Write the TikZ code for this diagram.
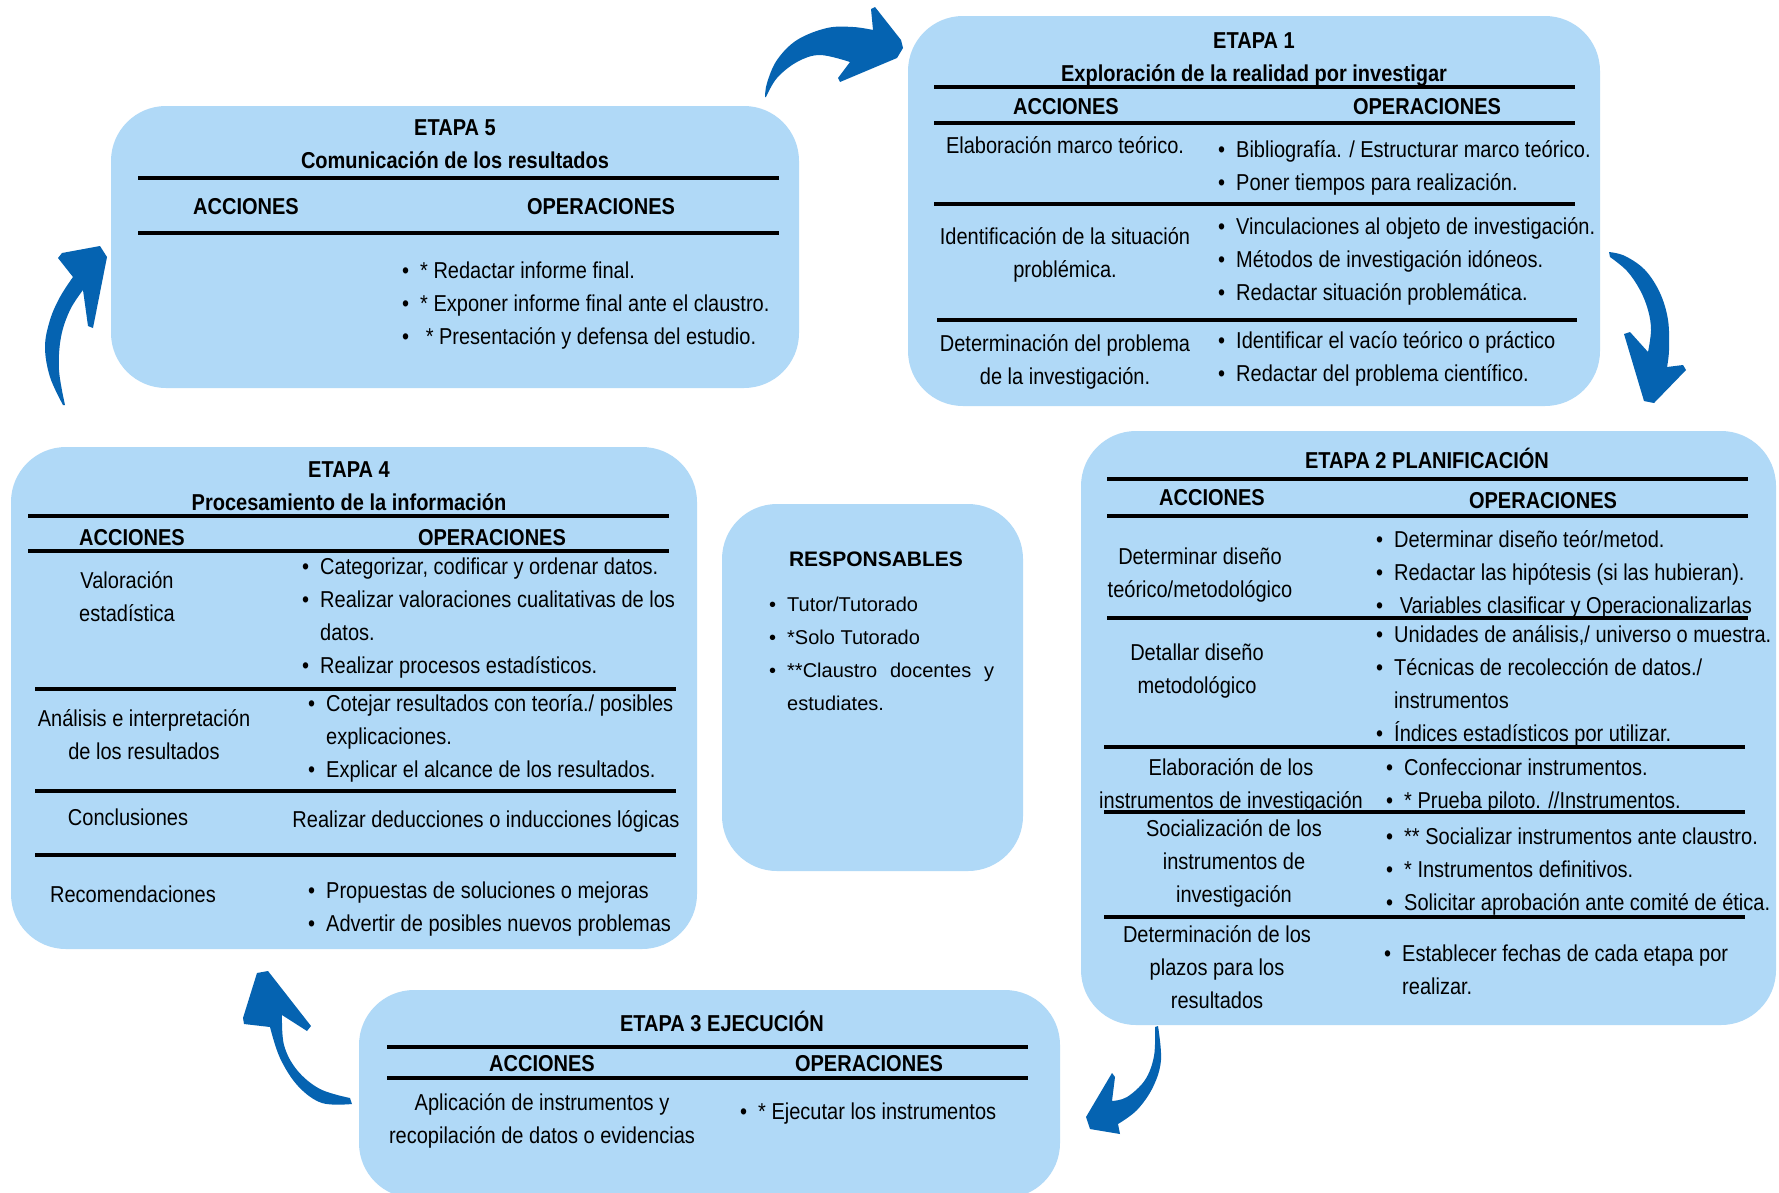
\documentclass[tikz,border=0pt]{standalone}
\usepackage{fontspec}
\setmainfont[FakeStretch=0.87]{Liberation Sans}
\newfontfamily\respfont{Liberation Sans}
\definecolor{boxblue}{RGB}{176,217,247}
\definecolor{arrowblue}{RGB}{5,99,177}
\newcommand\tfs{\fontsize{23}{33}\selectfont}
\newcommand\rfs{\respfont\fontsize{20}{33}\selectfont}
\newcommand\rtfs{\respfont\fontsize{21}{33}\selectfont}
\newcommand\mystrut{\rule{0pt}{25pt}}
\newcommand\mybul{\mystrut\makebox[18pt][l]{•}}
\newcommand\mycont{\mystrut\makebox[18pt][l]{}}
\tikzset{
  box/.style={fill=boxblue, rounded corners=55pt, inner sep=0pt},
  rulel/.style={line width=4pt, black},
  ctext/.style={font=\tfs, align=center, anchor=north, inner sep=0pt},
  ltext/.style={font=\tfs, align=left, anchor=north west, inner sep=0pt},
  arrowshape/.style={fill=arrowblue}
}
\begin{document}
\begin{tikzpicture}[x=1pt,y=-1pt]
\useasboundingbox (0,0) rectangle (1779,1192);
\fill[white] (0,0) rectangle (1779,1192);

% ---------- boxes ----------
\node[box, minimum width=692, minimum height=390] (e1box) at (1254,211) {};
\node[box, minimum width=688, minimum height=282] (e5box) at (455,247) {};
\node[box, minimum width=686, minimum height=502] (e4box) at (354,698) {};
\node[box, minimum width=301, minimum height=367] (rbox) at (872.5,687.5) {};
\node[box, minimum width=695, minimum height=594] (e2box) at (1428.5,728) {};
\node[box, minimum width=701, minimum height=208] (e3box) at (709.5,1094) {};

% ---------- ETAPA 1 ----------
\node[ctext] (e1title) at (1254,23) {\mystrut\textbf{ETAPA 1}\\\textbf{Exploración de la realidad por investigar}};
\draw[rulel] (934,87) -- (1575,87);
\draw[rulel] (934,123) -- (1575,123);
\draw[rulel] (934,204) -- (1575,204);
\draw[rulel] (937,320) -- (1577,320);
\node[ctext] (e1acc) at (1066,89) {\mystrut\textbf{ACCIONES}};
\node[ctext] (e1ope) at (1427,89) {\mystrut\textbf{OPERACIONES}};
\node[ctext] (e1a1) at (1065,128) {\mystrut Elaboración marco teórico.};
\node[ltext] (e1o1) at (1218,132) {\mybul Bibliografía. / Estructurar marco teórico.\\\mybul Poner tiempos para realización.};
\node[ctext] (e1a2) at (1065,219) {\mystrut Identificación de la situación\\problémica.};
\node[ltext] (e1o2) at (1218,209) {\mybul Vinculaciones al objeto de investigación.\\\mybul Métodos de investigación idóneos.\\\mybul Redactar situación problemática.};
\node[ctext] (e1a3) at (1065,326) {\mystrut Determinación del problema\\de la investigación.};
\node[ltext] (e1o3) at (1218,323) {\mybul Identificar el vacío teórico o práctico\\\mybul Redactar del problema científico.};

% ---------- ETAPA 5 ----------
\node[ctext] (e5title) at (455,110) {\mystrut\textbf{ETAPA 5}\\\textbf{Comunicación de los resultados}};
\draw[rulel] (138,178) -- (779,178);
\draw[rulel] (138,233) -- (779,233);
\node[ctext] (e5acc) at (246,189) {\mystrut\textbf{ACCIONES}};
\node[ctext] (e5ope) at (601,189) {\mystrut\textbf{OPERACIONES}};
\node[ltext] (e5o1) at (402,253) {\mybul * Redactar informe final.\\\mybul * Exponer informe final ante el claustro.\\\mybul\ * Presentación y defensa del estudio.};

% ---------- ETAPA 4 ----------
\node[ctext] (e4title) at (349,452) {\mystrut\textbf{ETAPA 4}\\\textbf{Procesamiento de la información}};
\draw[rulel] (28,516) -- (669,516);
\draw[rulel] (28,551) -- (669,551);
\draw[rulel] (35,689) -- (676,689);
\draw[rulel] (35,791) -- (676,791);
\draw[rulel] (35,855) -- (676,855);
\node[ctext] (e4acc) at (132,520) {\mystrut\textbf{ACCIONES}};
\node[ctext] (e4ope) at (492,520) {\mystrut\textbf{OPERACIONES}};
\node[ctext] (e4a1) at (127,563) {\mystrut Valoración\\estadística};
\node[ltext] (e4o1) at (302,549) {\mybul Categorizar, codificar y ordenar datos.\\\mybul Realizar valoraciones cualitativas de los\\\mycont datos.\\\mybul Realizar procesos estadísticos.};
\node[ctext] (e4a2) at (144,701) {\mystrut Análisis e interpretación\\de los resultados};
\node[ltext] (e4o2) at (308,686) {\mybul Cotejar resultados con teoría./ posibles\\\mycont explicaciones.\\\mybul Explicar el alcance de los resultados.};
\node[ctext] (e4a3) at (128,800) {\mystrut Conclusiones};
\node[ctext] (e4o3) at (486,802) {\mystrut Realizar deducciones o inducciones lógicas};
\node[ctext] (e4a4) at (133,877) {\mystrut Recomendaciones};
\node[ltext] (e4o4) at (308,873) {\mybul Propuestas de soluciones o mejoras\\\mybul Advertir de posibles nuevos problemas};

% ---------- RESPONSABLES ----------
\node[ctext, font=\rtfs] (rtitle) at (876,541) {\mystrut\textbf{RESPONSABLES}};
\node[ltext, font=\rfs] (rlist) at (769,586) {\mybul Tutor/Tutorado\\\mybul *Solo Tutorado\\\mybul \makebox[207pt][s]{**Claustro docentes y}\\\mycont estudiates.};

% ---------- ETAPA 2 ----------
\node[ctext] (e2title) at (1427,443) {\mystrut\textbf{ETAPA 2 PLANIFICACIÓN}};
\draw[rulel] (1107,479) -- (1748,479);
\draw[rulel] (1107,516) -- (1748,516);
\draw[rulel] (1107,618) -- (1748,618);
\draw[rulel] (1104,747) -- (1745,747);
\draw[rulel] (1104,812) -- (1745,812);
\draw[rulel] (1104,917) -- (1745,917);
\node[ctext] (e2acc) at (1212,480) {\mystrut\textbf{ACCIONES}};
\node[ctext] (e2ope) at (1543,483) {\mystrut\textbf{OPERACIONES}};
\node[ctext] (e2a1) at (1200,539) {\mystrut Determinar diseño\\teórico/metodológico};
\node[ltext] (e2o1) at (1376,522) {\mybul Determinar diseño teór/metod.\\\mybul Redactar las hipótesis (si las hubieran).\\\mybul\ Variables clasificar y Operacionalizarlas};
\node[ctext] (e2a2) at (1197,635) {\mystrut Detallar diseño\\metodológico};
\node[ltext] (e2o2) at (1376,617) {\mybul Unidades de análisis,/ universo o muestra.\\\mybul Técnicas de recolección de datos./\\\mycont instrumentos\\\mybul Índices estadísticos por utilizar.};
\node[ctext] (e2a3) at (1231,750) {\mystrut Elaboración de los\\instrumentos de investigación};
\node[ltext] (e2o3) at (1386,750) {\mybul Confeccionar instrumentos.\\\mybul * Prueba piloto. //Instrumentos.};
\node[ctext] (e2a4) at (1234,811) {\mystrut Socialización de los\\instrumentos de\\investigación};
\node[ltext] (e2o4) at (1386,819) {\mybul ** Socializar instrumentos ante claustro.\\\mybul * Instrumentos definitivos.\\\mybul Solicitar aprobación ante comité de ética.};
\node[ctext] (e2a5) at (1217,917) {\mystrut Determinación de los\\plazos para los\\resultados};
\node[ltext] (e2o5) at (1384,936) {\mybul Establecer fechas de cada etapa por\\\mycont realizar.};

% ---------- ETAPA 3 ----------
\node[ctext] (e3title) at (722,1006) {\mystrut\textbf{ETAPA 3 EJECUCIÓN}};
\draw[rulel] (387,1047) -- (1028,1047);
\draw[rulel] (387,1078) -- (1028,1078);
\node[ctext] (e3acc) at (542,1046) {\mystrut\textbf{ACCIONES}};
\node[ctext] (e3ope) at (869,1046) {\mystrut\textbf{OPERACIONES}};
\node[ctext] (e3a1) at (542,1085) {\mystrut Aplicación de instrumentos y\\recopilación de datos o evidencias};
\node[ltext] (e3o1) at (740,1094) {\mybul * Ejecutar los instrumentos};

% ---------- arrows ----------
% 5 -> 1 (top)
\fill[arrowshape] (765,97) -- plot[smooth, tension=0.6] coordinates {(765,97) (767,83) (777,60) (797,40) (827,28) (853,27) (873,30)}
  -- (871,9) -- (875,7) -- (901,40) -- (903,48) -- (897,58) -- (840,82) -- (838,78) -- (850,62)
  -- plot[smooth, tension=0.6] coordinates {(850,62) (820,55) (797,62) (777,78) (766,97)} -- cycle;
% 1 -> 2 (right)
\fill[arrowshape] (1609,252) -- plot[smooth, tension=0.6] coordinates {(1609,252) (1625,256) (1645,270) (1660,293) (1668,320) (1669,350) (1667,367)}
  -- (1683,365) -- (1686,370) -- (1654,403) -- (1644,401) -- (1624,334) -- (1630,332) -- (1648,352)
  -- plot[smooth, tension=0.6] coordinates {(1648,352) (1651,330) (1648,310) (1640,290) (1627,271) (1610,257)} -- cycle;
% 2 -> 3 (bottom right)
\fill[arrowshape] (1158,1026) -- plot[smooth, tension=0.6] coordinates {(1158,1026) (1161,1060) (1153,1087) (1137,1110) (1118,1124)}
  -- (1120,1134) -- (1090,1129) -- (1086,1117) -- (1112,1073) -- (1115,1077) -- (1112,1101)
  -- plot[smooth, tension=0.6] coordinates {(1112,1101) (1127,1097) (1145,1080) (1154,1056) (1155,1027)} -- cycle;
% 3 -> 4 (bottom left)
\fill[arrowshape] (352,1104) -- plot[smooth, tension=0.6] coordinates {(352,1104) (322,1103) (298,1086) (280,1058) (270,1027)}
  -- (244,1024) -- (243,1018) -- (257,973) -- (268,971) -- (311,1026) -- (307,1031) -- (282,1015)
  -- plot[smooth, tension=0.6] coordinates {(282,1015) (284,1045) (297,1070) (320,1089) (350,1098)} -- cycle;
% 4 -> 5 (left)
\fill[arrowshape] (63,405) -- plot[smooth, tension=0.6] coordinates {(63,405) (50,377) (45,347) (50,320) (60,297) (73,277)}
  -- (58,258) -- (62,253) -- (100,246) -- (107,257) -- (93,328) -- (88,326) -- (83,290)
  -- plot[smooth, tension=0.6] coordinates {(83,290) (70,310) (61,337) (59,370) (65,405)} -- cycle;
\end{tikzpicture}
\end{document}
